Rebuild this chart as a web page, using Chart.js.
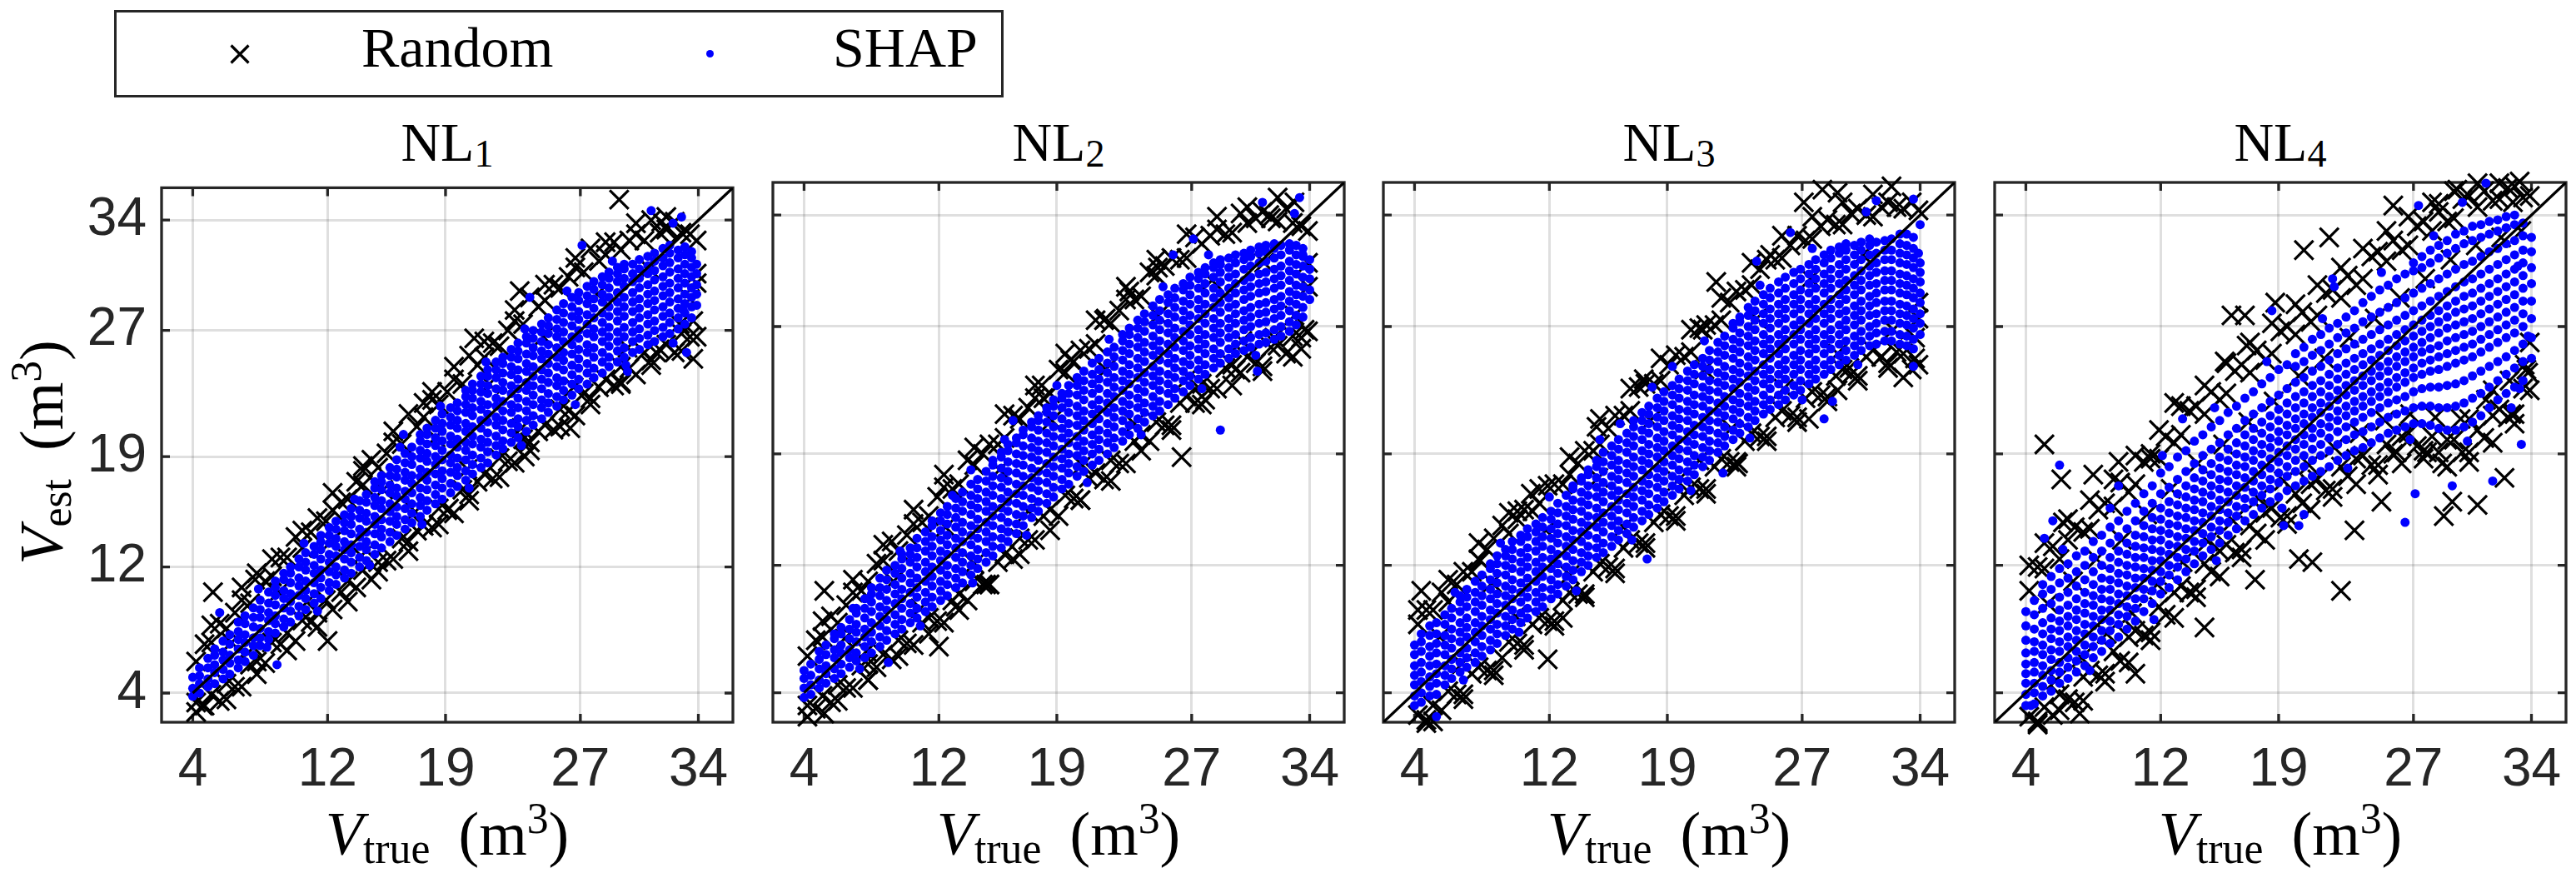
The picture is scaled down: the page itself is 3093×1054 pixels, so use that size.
<!DOCTYPE html>
<html lang="en">
<head>
    <meta charset="UTF-8">
    <title>Random vs SHAP - NL1..NL4</title>
    <style>
        body {
            margin: 0;
            background: #ffffff;
        }

        #fig {
            position: relative;
            width: 3093px;
            height: 1054px;
            overflow: hidden;
            background: #ffffff;
            font-family: "Liberation Serif", "Times New Roman", serif;
            color: #000000;
        }

        canvas {
            position: absolute;
        }

        .txt {
            position: absolute;
            line-height: 1;
            white-space: nowrap;
        }

        .legend {
            position: absolute;
            left: 137px;
            top: 12px;
            width: 1068px;
            height: 105px;
            box-sizing: border-box;
            border: 3px solid #262626;
            background: #ffffff;
        }

        .dot {
            position: absolute;
            width: 9px;
            height: 9px;
            border-radius: 50%;
            background: #0000ff;
        }

        .title {
            font-size: 66px;
            transform: translateX(-50%);
        }

        .title sub {
            font-size: 0.7em;
            vertical-align: -0.15em;
            line-height: 0;
        }

        .axlab {
            font-size: 74px;
        }

        .axlab sub {
            font-size: 0.7em;
            vertical-align: -0.2em;
            line-height: 0;
        }

        .axlab sup {
            font-size: 0.7em;
            vertical-align: 0.5em;
            line-height: 0;
        }

        .axlab .unit {
            margin-left: 34px;
        }
    </style>
    <script src="https://cdn.jsdelivr.net/npm/chart.js"></script>
</head>
<body>
<div id="fig">
    <div class="legend"></div>
    <svg style="position:absolute; left:276px; top:53px;" width="24" height="24">
        <path d="M1.5 1.5 L22.5 22.5 M22.5 1.5 L1.5 22.5" stroke="#000" stroke-width="3.2" fill="none"/>
    </svg>
    <div class="txt" style="left:434px; top:23px; font-size:68px;">Random</div>
    <div class="dot" style="left:848px; top:60px;"></div>
    <div class="txt" style="left:1000px; top:23px; font-size:68px;">SHAP</div>

    <div class="txt title" style="left:537px; top:138px;">NL<sub>1</sub></div>
    <div class="txt title" style="left:1271px; top:138px;">NL<sub>2</sub></div>
    <div class="txt title" style="left:2004px; top:138px;">NL<sub>3</sub></div>
    <div class="txt title" style="left:2738px; top:138px;">NL<sub>4</sub></div>

    <div class="txt axlab" style="left:537px; top:964px; transform:translateX(-50%);"><i>V</i><sub>true</sub><span class="unit">(m<sup>3</sup>)</span></div>
    <div class="txt axlab" style="left:1271px; top:964px; transform:translateX(-50%);"><i>V</i><sub>true</sub><span class="unit">(m<sup>3</sup>)</span></div>
    <div class="txt axlab" style="left:2004px; top:964px; transform:translateX(-50%);"><i>V</i><sub>true</sub><span class="unit">(m<sup>3</sup>)</span></div>
    <div class="txt axlab" style="left:2738px; top:964px; transform:translateX(-50%);"><i>V</i><sub>true</sub><span class="unit">(m<sup>3</sup>)</span></div>

    <div class="txt axlab" style="left:50px; top:543px; transform:translate(-50%,-50%) rotate(-90deg);"><i>V</i><sub>est</sub><span class="unit">(m<sup>3</sup>)</span></div>
</div>

<script>
    // axis ticks and limits (same for every panel)
    const tickValues = [4, 12, 19, 27, 34];
    const axisMin = 2.15;
    const axisMax = 36.05;

    // where the y = x reference line starts in each panel
    const diagonalStart = [4, 4, 2.15, 2.15];

    // The clouds:
    // each row is [V_true, V_est, V_est, ...] for the points stacked at that V_true.
    // Isolated points are kept as [V_true, V_est] pairs.

    // ---------- NL1 ----------
    const nl1ShapCols = [
        [4.0, 3.8,4.3,5.0],
        [4.4, 4.0,4.6,5.1,5.6],
        [4.9, 4.4,4.9,5.6,6.2],
        [5.3, 4.6,5.3,5.8,6.4,6.8],
        [5.8, 4.9,5.5,6.1,6.6,7.3],
        [6.2, 5.2,5.9,6.4,7.1,7.7],
        [6.7, 5.6,6.1,6.8,7.4,7.9,8.5],
        [7.1, 6.0,6.6,7.2,7.7,8.4,8.9],
        [7.6, 6.4,7.0,7.5,8.2,8.8,9.4],
        [8.0, 7.0,7.5,8.1,8.8,9.3,9.9],
        [8.5, 7.4,7.9,8.6,9.1,9.7,10.4],
        [8.9, 7.8,8.4,8.9,9.6,10.2,10.7,11.1],
        [9.4, 8.2,8.7,9.4,10.0,10.5,11.2,11.6],
        [9.8, 8.5,9.2,9.8,10.3,11.0,11.6,12.0],
        [10.3, 8.9,9.5,10.2,10.8,11.3,12.0,12.5],
        [10.7, 9.3,10.0,10.5,11.1,11.8,12.3,12.9],
        [11.2, 9.7,10.3,11.0,11.6,12.1,12.8,13.3],
        [11.6, 10.0,10.7,11.3,11.8,12.5,13.1,13.6,14.0],
        [12.1, 10.5,11.0,11.7,12.3,12.8,13.5,14.0,14.5],
        [12.5, 10.9,11.5,12.0,12.7,13.3,13.8,14.4,14.9],
        [13.0, 11.3,11.8,12.5,13.1,13.6,14.3,14.8,15.3],
        [13.4, 11.6,12.3,12.9,13.4,14.1,14.7,15.2,15.7],
        [13.9, 12.0,12.6,13.3,13.9,14.4,15.1,15.6,16.2],
        [14.3, 12.4,13.1,13.6,14.2,14.9,15.4,16.1,16.6],
        [14.8, 12.8,13.4,14.1,14.7,15.2,15.9,16.4,17.0,17.4],
        [15.2, 13.2,13.9,14.4,15.0,15.7,16.2,16.9,17.4,17.8],
        [15.7, 13.6,14.2,14.9,15.5,16.0,16.7,17.2,17.8,18.3],
        [16.1, 14.0,14.7,15.2,15.8,16.5,17.0,17.7,18.2,18.8],
        [16.6, 14.4,15.0,15.7,16.3,16.8,17.5,18.0,18.6,19.2],
        [17.0, 14.8,15.4,16.0,16.7,17.3,17.8,18.5,19.0,19.6],
        [17.5, 15.2,15.9,16.4,17.0,17.7,18.2,18.9,19.4,20.0,20.4],
        [17.9, 15.6,16.2,16.9,17.5,18.0,18.7,19.2,19.8,20.4,20.8],
        [18.4, 16.0,16.6,17.2,17.9,18.5,19.0,19.7,20.2,20.8,21.3],
        [18.8, 16.3,17.0,17.6,18.1,18.8,19.4,20.0,20.6,21.1,21.7],
        [19.3, 16.7,17.3,18.0,18.6,19.1,19.8,20.3,21.0,21.5,22.1],
        [19.7, 17.1,17.8,18.3,18.9,19.6,20.1,20.8,21.3,21.9,22.4],
        [20.2, 17.5,18.1,18.8,19.4,19.9,20.6,21.1,21.8,22.3,22.8,23.2],
        [20.6, 17.9,18.5,19.1,19.8,20.3,20.9,21.6,22.1,22.7,23.2,23.6],
        [21.1, 18.3,18.9,19.6,20.1,20.8,21.3,22.0,22.5,23.1,23.6,24.1],
        [21.5, 18.6,19.3,19.9,20.5,21.2,21.7,22.3,23.0,23.5,24.1,24.5],
        [22.0, 19.1,19.7,20.3,21.0,21.5,22.2,22.7,23.3,24.0,24.5,25.0],
        [22.4, 19.5,20.0,20.7,21.3,21.9,22.5,23.2,23.7,24.3,24.9,25.3],
        [22.9, 19.9,20.5,21.1,21.8,22.3,23.0,23.5,24.2,24.7,25.3,25.8],
        [23.3, 20.2,20.9,21.4,22.1,22.7,23.3,23.9,24.5,25.2,25.7,26.2],
        [23.8, 20.6,21.3,21.9,22.5,23.2,23.7,24.4,24.9,25.5,26.2,26.6],
        [24.2, 21.0,21.6,22.3,22.9,23.5,24.1,24.7,25.4,25.9,26.5,27.0],
        [24.7, 21.4,22.1,22.6,23.3,23.9,24.5,25.2,25.7,26.3,26.9,27.4],
        [25.1, 21.8,22.4,23.0,23.7,24.3,24.9,25.5,26.1,26.8,27.3,27.8],
        [25.6, 22.2,22.8,23.5,24.0,24.7,25.3,25.9,26.6,27.1,27.7,28.3],
        [26.0, 22.6,23.2,23.8,24.5,25.1,25.6,26.3,26.9,27.5,28.1,28.7],
        [26.5, 22.9,23.6,24.2,24.8,25.5,26.1,26.6,27.3,27.9,28.5,29.1],
        [26.9, 23.3,23.9,24.6,25.2,25.8,26.5,27.0,27.7,28.2,28.9,29.4],
        [27.4, 23.6,24.3,24.9,25.6,26.1,26.8,27.4,28.0,28.7,29.2,29.8],
        [27.8, 24.0,24.6,25.3,25.9,26.6,27.1,27.8,28.4,29.0,29.6,30.1],
        [28.3, 24.3,25.0,25.6,26.3,26.9,27.5,28.1,28.8,29.3,29.9,30.4],
        [28.7, 24.7,25.3,26.0,26.6,27.2,27.9,28.5,29.1,29.7,30.3,30.7],
        [29.2, 25.0,25.7,26.3,26.9,27.6,28.2,28.8,29.4,30.1,30.6,31.0],
        [29.6, 25.3,25.9,26.6,27.2,27.9,28.5,29.1,29.8,30.3,30.9,31.2],
        [30.1, 25.6,26.3,26.9,27.5,28.2,28.8,29.4,30.1,30.6,31.2],
        [30.5, 25.8,26.5,27.1,27.8,28.4,29.0,29.7,30.3,30.9,31.5],
        [31.0, 26.1,26.7,27.4,28.0,28.7,29.3,29.9,30.6,31.1,31.7],
        [31.4, 26.3,27.0,27.6,28.3,28.9,29.5,30.2,30.8,31.4,31.9],
        [31.9, 26.6,27.2,27.9,28.5,29.2,29.8,30.4,31.1,31.6,32.2],
        [32.3, 26.8,27.5,28.1,28.8,29.4,30.0,30.7,31.3,31.9,32.4],
        [32.8, 27.1,27.8,28.4,29.0,29.7,30.3,30.9,31.6,32.1],
        [33.2, 27.4,28.1,28.7,29.3,30.0,30.6,31.2,31.8,32.3],
        [33.6, 27.8,28.5,29.1,29.7,30.4,31.0,31.6,32.0],
        [33.9, 28.6,29.3,29.9,30.6,31.2]
    ];
    const nl1ShapOut = [
        [31.2,34.6],[33.0,34.2],[32.5,33.8],[29.8,24.4],[33.3,25.6],[5.6,9.1],
        [9.0,5.8],[16.5,20.4],[24.0,29.1],[27.1,32.4],[33.1,28.3],
        [7.9,10.6],[10.6,13.5],[13.6,16.3],[16.3,19.6],[18.7,22.2],[21.4,25.0],
        [23.7,27.1],[26.2,29.5],[28.9,31.4],[8.4,6.9],[11.4,9.2],[14.5,12.1],
        [17.6,14.7],[20.4,17.0],[23.5,19.7],[26.7,22.3],[29.7,24.8],[32.5,26.2]
    ];
    const nl1RandomCols = [
        [4.2, 3.4,6.0,2.8], [4.7, 3.2,7.1], [5.1, 3.9,7.2,8.3], [5.6, 3.5,8.4],
        [6.0, 4.6,8.1,3.6], [6.5, 4.4,9.1], [6.9, 4.4,9.9,10.7], [7.4, 5.8,9.7],
        [7.8, 6.0,11.6,5.2], [8.3, 5.9,11.1], [8.7, 7.2,11.4,12.5], [9.2, 7.1,12.6],
        [9.6, 7.8,12.6,6.7], [10.1, 7.3,13.9], [10.5, 8.6,13.2,14.3], [11.0, 8.5,14.2],
        [11.4, 9.1,15.1,8.2], [11.9, 9.9,14.9], [12.3, 9.3,16.7,15.6], [12.8, 10.4,16.1],
        [13.2, 11.1,16.3,9.8], [13.7, 10.7,17.4], [14.1, 11.8,17.2,18.4], [14.6, 11.2,18.8],
        [15.0, 12.3,18.3,11.7], [15.5, 12.4,19.2], [15.9, 12.5,19.9,20.6], [16.4, 13.8,19.8],
        [16.8, 13.6,21.7,13.0], [17.3, 14.3,20.9], [17.7, 14.6,21.5,22.4], [18.2, 14.5,22.6],
        [18.6, 15.7,22.3,14.7], [19.1, 15.6,23.1], [19.5, 15.4,23.9,24.7], [20.0, 16.9,23.6],
        [20.4, 16.6,25.4,16.2], [20.9, 17.4,24.8], [21.3, 17.9,25.3,26.3], [21.8, 17.6,26.2],
        [22.2, 18.9,26.0,17.7], [22.7, 18.7,27.0], [23.1, 18.6,27.6,28.3], [23.6, 20.1,27.4],
        [24.0, 19.9,29.1,19.4], [24.5, 20.6,28.5], [24.9, 21.0,28.9,29.9], [25.4, 20.7,29.9],
        [25.8, 22.0,29.7,20.9], [26.3, 21.9,30.4], [26.7, 21.6,31.0,31.6], [27.2, 23.0,30.7],
        [27.6, 22.7,32.2,22.3], [28.1, 23.4,31.4], [28.5, 23.9,31.8,32.6], [29.0, 23.5,32.6],
        [29.4, 24.7,32.1,23.6], [29.9, 24.6,32.7], [30.3, 24.2,33.1,33.8], [30.8, 25.6,32.7],
        [31.2, 25.1,34.0,24.8], [31.7, 25.8,33.2], [32.1, 26.1,33.4,34.2], [32.6, 25.6,33.9],
        [33.0, 26.8,33.2,25.7], [33.5, 26.6,33.1], [33.9, 26.6,32.7,30.0]
    ];
    const nl1RandomOut = [
        [5.2,10.4],[12.0,7.3],[29.3,35.3],[33.7,25.2],[33.7,27.6],[31.5,25.6],[29.4,23.7],
        [26.4,20.8],[23.7,19.0],[19.2,15.7],[18.2,23.1],[20.7,26.5],[23.4,29.5],[14.1,18.1],
        [7.7,11.2],[4.6,3.2],[33.9,30.6],[33.5,29.0],[32.2,33.5],[31.8,33.9],
        [6.3,7.2],[9.1,10.4],[12.2,13.6],[15.3,16.9],[18.4,20.2],[21.6,23.6],[24.8,26.6],
        [28.0,29.3],[31.1,30.9],[7.6,6.9],[10.8,9.8],[14.0,12.7],[17.2,15.5],[20.3,18.2],
        [23.5,20.8],[26.6,23.4],[29.8,25.9],[32.9,27.4]
    ];

    // ---------- NL2 ----------
    const nl2ShapCols = [
        [4.0, 3.7,4.3,4.9,5.4],
        [4.4, 3.9,4.5,5.1,5.8],
        [4.9, 4.3,4.8,5.5,6.1,6.6],
        [5.3, 4.6,5.2,5.7,6.4,7.0],
        [5.8, 4.9,5.5,6.2,6.7,7.4,7.7],
        [6.2, 5.2,5.8,6.5,7.0,7.7,8.1],
        [6.7, 5.6,6.2,6.7,7.4,8.0,8.6],
        [7.1, 6.0,6.5,7.2,7.8,8.3,9.0,9.3],
        [7.6, 6.2,6.9,7.5,8.0,8.7,9.3,9.9],
        [8.0, 6.5,7.2,7.8,8.4,9.1,9.7,10.2,10.6],
        [8.5, 6.9,7.5,8.2,8.8,9.4,10.1,10.6,11.2],
        [8.9, 7.3,7.9,8.6,9.2,9.8,10.5,11.1,11.7],
        [9.4, 7.7,8.3,8.9,9.6,10.2,10.8,11.5,12.0],
        [9.8, 8.0,8.6,9.3,9.9,10.5,11.2,11.8,12.4,12.7],
        [10.3, 8.4,9.0,9.6,10.3,10.9,11.5,12.2,12.7,13.1],
        [10.7, 8.7,9.3,10.0,10.6,11.2,11.9,12.5,13.1,13.7],
        [11.2, 9.1,9.7,10.3,11.0,11.6,12.2,12.9,13.5,14.1],
        [11.6, 9.4,10.0,10.7,11.3,11.9,12.6,13.2,13.8,14.5,14.8],
        [12.1, 9.8,10.4,11.0,11.7,12.3,12.9,13.6,14.2,14.8,15.3],
        [12.5, 10.1,10.8,11.4,12.0,12.7,13.3,13.9,14.6,15.2,15.7],
        [13.0, 10.6,11.2,11.8,12.5,13.1,13.7,14.4,15.0,15.6,16.2],
        [13.4, 10.9,11.6,12.2,12.8,13.5,14.1,14.7,15.4,16.0,16.6],
        [13.9, 11.4,12.0,12.6,13.3,13.9,14.5,15.2,15.8,16.4,17.1],
        [14.3, 11.8,12.4,13.0,13.7,14.3,14.9,15.6,16.2,16.8,17.4],
        [14.8, 12.2,12.8,13.5,14.1,14.7,15.4,16.0,16.6,17.3,17.9],
        [15.2, 12.6,13.2,13.8,14.5,15.1,15.7,16.4,17.0,17.6,18.3,18.6],
        [15.7, 13.1,13.7,14.3,15.0,15.6,16.2,16.9,17.5,18.1,18.8,19.1],
        [16.1, 13.5,14.1,14.7,15.4,16.0,16.6,17.3,17.9,18.5,19.2,19.6],
        [16.6, 14.0,14.6,15.2,15.9,16.5,17.1,17.8,18.4,19.0,19.7,20.0],
        [17.0, 14.5,15.1,15.7,16.4,17.0,17.6,18.3,18.9,19.5,20.2,20.5],
        [17.5, 15.0,15.6,16.2,16.9,17.5,18.1,18.8,19.4,20.0,20.7,21.0],
        [17.9, 15.4,16.0,16.7,17.3,17.9,18.6,19.2,19.8,20.5,21.1,21.4],
        [18.4, 15.9,16.5,17.2,17.8,18.4,19.1,19.7,20.3,21.0,21.6,21.9],
        [18.8, 16.3,16.9,17.6,18.2,18.8,19.5,20.1,20.7,21.4,22.0,22.4],
        [19.3, 16.8,17.4,18.1,18.7,19.3,20.0,20.6,21.2,21.9,22.5,22.8],
        [19.7, 17.1,17.8,18.4,19.0,19.7,20.3,20.9,21.6,22.2,22.8,23.3],
        [20.2, 17.6,18.2,18.9,19.5,20.1,20.8,21.4,22.0,22.7,23.3,23.8],
        [20.6, 17.9,18.6,19.2,19.8,20.5,21.1,21.7,22.4,23.0,23.6,24.2],
        [21.1, 18.3,19.0,19.6,20.2,20.9,21.5,22.1,22.8,23.4,24.0,24.7],
        [21.5, 18.6,19.3,19.9,20.5,21.2,21.8,22.4,23.1,23.7,24.3,25.0],
        [22.0, 19.0,19.7,20.3,20.9,21.6,22.2,22.8,23.5,24.1,24.7,25.4],
        [22.4, 19.4,20.0,20.7,21.3,21.9,22.6,23.2,23.8,24.5,25.1,25.7],
        [22.9, 19.8,20.4,21.1,21.7,22.3,23.0,23.6,24.2,24.9,25.5,26.1,26.5],
        [23.3, 20.2,20.8,21.5,22.1,22.7,23.4,24.0,24.6,25.3,25.9,26.5,26.9],
        [23.8, 20.6,21.2,21.9,22.5,23.1,23.8,24.4,25.0,25.7,26.3,26.9,27.4],
        [24.2, 21.0,21.6,22.2,22.9,23.5,24.1,24.8,25.4,26.0,26.7,27.3,27.8],
        [24.7, 21.4,22.0,22.6,23.3,23.9,24.5,25.2,25.8,26.4,27.1,27.7,28.3],
        [25.1, 21.7,22.3,23.0,23.6,24.2,24.9,25.5,26.1,26.8,27.4,28.0,28.7],
        [25.6, 22.1,22.8,23.4,24.0,24.7,25.3,25.9,26.6,27.2,27.8,28.5,29.0],
        [26.0, 22.5,23.1,23.8,24.4,25.0,25.7,26.3,26.9,27.6,28.2,28.8,29.4],
        [26.5, 22.9,23.6,24.2,24.8,25.5,26.1,26.7,27.4,28.0,28.6,29.3,29.7],
        [26.9, 23.3,23.9,24.6,25.2,25.8,26.5,27.1,27.7,28.4,29.0,29.6,30.1],
        [27.4, 23.7,24.3,24.9,25.6,26.2,26.8,27.5,28.1,28.7,29.4,30.0,30.4],
        [27.8, 24.0,24.6,25.3,25.9,26.5,27.2,27.8,28.4,29.1,29.7,30.3,30.7],
        [28.3, 24.4,25.0,25.6,26.3,26.9,27.5,28.2,28.8,29.4,30.1,30.7,31.0],
        [28.7, 24.7,25.3,26.0,26.6,27.2,27.9,28.5,29.1,29.8,30.4,30.9,31.2],
        [29.2, 25.0,25.6,26.3,26.9,27.5,28.2,28.8,29.4,30.1,30.7,31.3],
        [29.6, 25.3,25.9,26.5,27.2,27.8,28.4,29.1,29.7,30.3,31.0,31.5],
        [30.1, 25.5,26.1,26.8,27.4,28.0,28.7,29.3,29.9,30.6,31.2,31.6],
        [30.5, 25.7,26.3,27.0,27.6,28.2,28.9,29.5,30.1,30.8,31.4,31.8],
        [31.0, 25.9,26.5,27.2,27.8,28.4,29.1,29.7,30.3,31.0,31.6,32.0],
        [31.4, 26.0,26.6,27.3,27.9,28.5,29.2,29.8,30.4,31.1,31.7,32.1],
        [31.9, 26.2,26.8,27.5,28.1,28.7,29.4,30.0,30.6,31.3,31.9,32.2],
        [32.3, 26.4,27.0,27.7,28.3,28.9,29.6,30.2,30.8,31.5,32.1],
        [32.8, 26.7,27.3,28.0,28.6,29.2,29.9,30.5,31.1,31.8,32.2],
        [33.2, 27.1,27.7,28.4,29.0,29.6,30.3,30.9,31.5,32.1],
        [33.6, 27.6,28.2,28.9,29.5,30.1,30.8,31.4,31.9],
        [34.0, 28.7,29.3,30.0,30.6,31.2]
    ];
    const nl2ShapOut = [
        [28.7,20.5],[30.9,24.2],[31.2,34.8],[33.4,35.1],[33.1,34.1],[16.4,21.1],
        [13.9,18.0],[9.0,5.9],[25.9,31.5],[27.1,32.5],[33.6,31.5],[34.0,30.6],
        [6.9,9.3],[9.7,12.9],[12.8,16.4],[15.9,19.9],[19.0,23.3],[22.1,26.2],
        [25.3,29.5],[28.0,31.5],[7.3,5.5],[10.9,8.2],[14.0,10.9],[17.2,13.9],
        [20.8,17.2],[24.0,20.2],[27.6,23.1],[30.8,25.2]
    ];
    const nl2RandomCols = [
        [4.2, 3.2,6.3,2.5], [4.7, 3.0,7.3], [5.1, 3.8,7.5,8.5], [5.6, 3.4,8.8],
        [6.0, 4.5,8.4,3.5], [6.5, 4.3,9.5], [6.9, 4.3,10.3,11.1], [7.4, 5.7,10.4],
        [7.8, 5.8,11.0,4.8], [8.3, 5.6,12.1], [8.7, 6.4,12.3,13.3], [9.2, 6.1,13.5],
        [9.6, 7.3,12.9,6.3], [10.1, 7.1,13.9], [10.5, 7.0,14.6,15.5], [11.0, 8.4,14.7],
        [11.4, 8.7,15.1,7.7], [11.9, 8.5,16.3], [12.3, 8.4,16.9,17.7], [12.8, 9.8,16.8],
        [13.2, 10.2,17.1,9.2], [13.7, 9.8,18.6], [14.1, 11.0,18.3,19.4], [14.6, 10.8,19.0],
        [15.0, 10.8,19.6,10.8], [15.5, 12.2,19.6], [15.9, 12.7,20.0,21.5], [16.4, 12.4,21.4],
        [16.8, 13.7,21.2,12.7], [17.3, 13.6,21.9], [17.7, 13.6,22.5,23.3], [18.2, 15.1,22.5],
        [18.6, 15.5,22.8,14.2], [19.1, 15.1,24.3], [19.5, 16.4,24.1,25.3], [20.0, 16.2,24.8],
        [20.4, 16.1,25.5,16.1], [20.9, 17.5,25.6], [21.3, 17.8,25.9,27.4], [21.8, 17.4,27.4],
        [22.2, 18.6,27.2,17.3], [22.7, 18.4,28.0], [23.1, 18.4,28.7,29.5], [23.6, 19.8,28.7],
        [24.0, 20.2,28.9,19.2], [24.5, 19.8,30.4], [24.9, 21.0,30.2,31.2], [25.4, 20.8,30.8],
        [25.8, 20.8,31.3,20.5], [26.3, 22.2,31.2], [26.7, 22.6,31.3,32.8], [27.2, 22.2,32.6],
        [27.6, 23.4,32.2,22.1], [28.1, 23.1,32.7], [28.5, 23.1,33.1,33.9], [29.0, 24.4,32.8],
        [29.4, 24.6,32.9,23.3], [29.9, 24.1,34.1], [30.3, 25.1,33.5,34.5], [30.8, 24.7,33.8],
        [31.2, 24.5,34.2,24.2], [31.7, 25.7,33.8], [32.1, 25.8,33.6,35.1], [32.6, 25.3,34.4],
        [33.0, 26.4,33.5,25.1], [33.5, 26.3,33.3], [33.9, 26.7,33.0,29.5]
    ];
    const nl2RandomOut = [
        [5.2,10.4],[12.0,6.9],[26.4,18.8],[33.5,25.6],[33.7,26.8],[33.1,34.8],[31.6,34.0],
        [27.8,22.4],[18.1,23.3],[19.8,24.9],[21.9,27.5],[23.3,29.2],[25.0,30.7],[14.8,10.8],
        [13.0,9.4],[7.8,4.8],[5.2,2.7],[29.6,24.3],[31.9,26.3],[33.9,31.0],
        [6.4,7.4],[9.3,11.0],[12.4,14.4],[15.6,18.0],[18.7,21.1],[21.9,24.3],[25.0,27.7],
        [28.2,29.9],[31.3,31.0],[7.7,6.6],[10.9,9.3],[14.1,12.1],[17.3,15.4],[20.5,18.3],
        [23.6,20.9],[26.8,23.8],[30.0,26.1],[33.1,27.7]
    ];

    // ---------- NL3 ----------
    const nl3ShapCols = [
        [4.0, 3.2,3.8,4.5,5.1,5.7,6.4,7.0],
        [4.4, 3.4,4.0,4.7,5.3,5.9,6.6,7.2,7.7],
        [4.9, 3.8,4.4,5.0,5.7,6.3,6.9,7.6,8.2],
        [5.3, 3.9,4.6,5.2,5.8,6.5,7.1,7.7,8.4],
        [5.8, 4.5,5.1,5.7,6.4,7.0,7.6,8.3,8.9],
        [6.2, 4.9,5.5,6.1,6.8,7.4,8.0,8.7,9.3],
        [6.7, 5.3,5.9,6.5,7.2,7.8,8.4,9.1,9.7,10.1],
        [7.1, 5.6,6.2,6.8,7.5,8.1,8.7,9.4,10.0,10.5],
        [7.6, 5.9,6.5,7.2,7.8,8.4,9.1,9.7,10.3,11.0],
        [8.0, 6.3,6.9,7.6,8.2,8.8,9.5,10.1,10.7,11.4],
        [8.5, 6.7,7.3,8.0,8.6,9.2,9.9,10.5,11.1,11.8,12.1],
        [8.9, 7.1,7.7,8.3,9.0,9.6,10.2,10.9,11.5,12.1,12.6],
        [9.4, 7.6,8.2,8.8,9.5,10.1,10.7,11.4,12.0,12.6,13.0],
        [9.8, 8.0,8.6,9.2,9.9,10.5,11.1,11.8,12.4,13.0,13.5],
        [10.3, 8.4,9.0,9.7,10.3,10.9,11.6,12.2,12.8,13.5,13.9],
        [10.7, 8.7,9.3,10.0,10.6,11.2,11.9,12.5,13.1,13.8,14.3],
        [11.2, 9.1,9.7,10.3,11.0,11.6,12.2,12.9,13.5,14.1,14.6],
        [11.6, 9.4,10.0,10.6,11.3,11.9,12.5,13.2,13.8,14.4,15.0],
        [12.1, 9.9,10.5,11.1,11.8,12.4,13.0,13.7,14.3,14.9,15.4],
        [12.5, 10.2,10.8,11.5,12.1,12.7,13.4,14.0,14.6,15.3,15.9],
        [13.0, 10.7,11.3,11.9,12.6,13.2,13.8,14.5,15.1,15.7,16.4],
        [13.4, 11.1,11.7,12.3,13.0,13.6,14.2,14.9,15.5,16.1,16.8,17.0],
        [13.9, 11.6,12.2,12.8,13.5,14.1,14.7,15.4,16.0,16.6,17.3,17.5],
        [14.3, 12.0,12.6,13.2,13.9,14.5,15.1,15.8,16.4,17.0,17.7,18.0],
        [14.8, 12.5,13.1,13.7,14.4,15.0,15.6,16.3,16.9,17.5,18.2,18.6],
        [15.2, 12.8,13.4,14.1,14.7,15.3,16.0,16.6,17.2,17.9,18.5,19.1],
        [15.7, 13.2,13.8,14.5,15.1,15.7,16.4,17.0,17.6,18.3,18.9,19.5],
        [16.1, 13.6,14.2,14.8,15.5,16.1,16.7,17.4,18.0,18.6,19.3,19.9],
        [16.6, 14.0,14.6,15.3,15.9,16.5,17.2,17.8,18.4,19.1,19.7,20.3],
        [17.0, 14.4,15.0,15.7,16.3,16.9,17.6,18.2,18.8,19.5,20.1,20.7,21.1],
        [17.5, 14.8,15.4,16.1,16.7,17.3,18.0,18.6,19.2,19.9,20.5,21.1,21.6],
        [17.9, 15.2,15.8,16.5,17.1,17.7,18.4,19.0,19.6,20.3,20.9,21.5,22.0],
        [18.4, 15.6,16.2,16.9,17.5,18.1,18.8,19.4,20.0,20.7,21.3,21.9,22.5],
        [18.8, 16.0,16.6,17.3,17.9,18.5,19.2,19.8,20.4,21.1,21.7,22.3,22.9],
        [19.3, 16.4,17.0,17.6,18.3,18.9,19.5,20.2,20.8,21.4,22.1,22.7,23.3],
        [19.7, 16.8,17.4,18.0,18.7,19.3,19.9,20.6,21.2,21.8,22.5,23.1,23.7],
        [20.2, 17.3,17.9,18.5,19.2,19.8,20.4,21.1,21.7,22.3,23.0,23.6,24.2],
        [20.6, 17.7,18.3,18.9,19.6,20.2,20.8,21.5,22.1,22.7,23.4,24.0,24.6],
        [21.1, 18.2,18.8,19.4,20.1,20.7,21.3,22.0,22.6,23.2,23.9,24.5,25.0],
        [21.5, 18.6,19.2,19.8,20.5,21.1,21.7,22.4,23.0,23.6,24.3,24.9,25.5],
        [22.0, 19.1,19.7,20.3,21.0,21.6,22.2,22.9,23.5,24.1,24.8,25.4,26.0],
        [22.4, 19.5,20.1,20.7,21.4,22.0,22.6,23.3,23.9,24.5,25.2,25.8,26.4],
        [22.9, 19.9,20.5,21.2,21.8,22.4,23.1,23.7,24.3,25.0,25.6,26.2,26.9,27.2],
        [23.3, 20.3,20.9,21.6,22.2,22.8,23.5,24.1,24.7,25.4,26.0,26.6,27.3,27.6],
        [23.8, 20.7,21.3,22.0,22.6,23.2,23.9,24.5,25.1,25.8,26.4,27.0,27.7,28.2],
        [24.2, 21.1,21.7,22.3,23.0,23.6,24.2,24.9,25.5,26.1,26.8,27.4,28.0,28.6],
        [24.7, 21.5,22.1,22.7,23.4,24.0,24.6,25.3,25.9,26.5,27.2,27.8,28.4,29.0],
        [25.1, 21.8,22.4,23.1,23.7,24.3,25.0,25.6,26.2,26.9,27.5,28.1,28.8,29.4],
        [25.6, 22.1,22.7,23.4,24.0,24.6,25.3,25.9,26.5,27.2,27.8,28.4,29.1,29.8],
        [26.0, 22.4,23.0,23.7,24.3,24.9,25.6,26.2,26.8,27.5,28.1,28.7,29.4,30.1],
        [26.5, 22.7,23.3,24.0,24.6,25.2,25.9,26.5,27.1,27.8,28.4,29.0,29.7,30.4],
        [26.9, 23.0,23.6,24.3,24.9,25.5,26.2,26.8,27.4,28.1,28.7,29.3,30.0,30.6],
        [27.4, 23.4,24.0,24.6,25.3,25.9,26.5,27.2,27.8,28.4,29.1,29.7,30.3,30.9],
        [27.8, 23.7,24.3,24.9,25.6,26.2,26.8,27.5,28.1,28.7,29.4,30.0,30.6,31.2],
        [28.3, 24.0,24.6,25.3,25.9,26.5,27.2,27.8,28.4,29.1,29.7,30.3,31.0,31.5],
        [28.7, 24.3,24.9,25.6,26.2,26.8,27.5,28.1,28.7,29.4,30.0,30.6,31.3,31.8],
        [29.2, 24.6,25.2,25.9,26.5,27.1,27.8,28.4,29.0,29.7,30.3,30.9,31.6,32.0],
        [29.6, 24.9,25.5,26.1,26.8,27.4,28.0,28.7,29.3,29.9,30.6,31.2,31.8,32.2],
        [30.1, 25.2,25.8,26.4,27.1,27.7,28.3,29.0,29.6,30.2,30.9,31.5,32.1],
        [30.5, 25.5,26.1,26.7,27.4,28.0,28.6,29.3,29.9,30.5,31.2,31.8,32.3],
        [31.0, 25.8,26.4,27.0,27.7,28.3,28.9,29.6,30.2,30.8,31.5,32.1,32.5],
        [31.4, 25.9,26.6,27.2,27.8,28.5,29.1,29.7,30.4,31.0,31.6,32.3],
        [31.9, 26.1,26.7,27.4,28.0,28.6,29.3,29.9,30.5,31.2,31.8,32.4],
        [32.3, 26.1,26.7,27.4,28.0,28.6,29.3,29.9,30.5,31.2,31.8,32.5],
        [32.8, 25.9,26.5,27.2,27.8,28.4,29.1,29.7,30.3,31.0,31.6,32.2,32.8],
        [33.2, 25.8,26.4,27.1,27.7,28.3,29.0,29.6,30.2,30.9,31.5,32.1,32.8],
        [33.6, 25.6,26.2,26.9,27.5,28.1,28.8,29.4,30.0,30.7,31.3,31.9,32.6],
        [34.0, 26.5,27.2,27.8,28.5,29.1,29.8,30.4,31.0]
    ];
    const nl3ShapOut = [
        [33.6,35.0],[31.4,34.9],[30.8,34.2],[24.3,31.1],[33.6,24.5],[17.8,12.4],
        [28.8,22.3],[28.3,21.2],[5.3,2.5],[22.3,17.8],[26.3,32.9],[16.2,20.9],
        [19.3,24.5],[34.0,33.4],[33.9,31.6],
        [6.4,10.3],[9.1,13.4],[12.0,16.3],[15.0,19.9],[18.1,23.2],[21.2,26.1],
        [24.5,29.6],[27.6,31.9],[6.9,4.8],[10.2,7.8],[13.6,10.4],[16.9,13.6],
        [20.4,16.7],[23.9,20.0],[27.0,22.4],[30.3,24.6]
    ];
    const nl3RandomCols = [
        [4.2, 2.6,8.3,9.2], [4.7, 2.3,9.2], [5.1, 3.2,9.2,2.2], [5.6, 2.9,10.3],
        [6.0, 4.1,9.7,11.1], [6.5, 3.9,10.8], [6.9, 3.9,11.6,3.6], [7.4, 5.2,11.6],
        [7.8, 5.6,12.4,13.4], [8.3, 5.4,13.0], [8.7, 5.4,13.7,5.1], [9.2, 6.2,14.5],
        [9.6, 7.2,14.0,15.3], [10.1, 7.1,14.9], [10.5, 7.0,15.5,6.7], [11.0, 8.3,15.4],
        [11.4, 8.7,15.9,16.8], [11.9, 8.5,17.0], [12.3, 8.5,17.1,8.2], [12.8, 9.8,17.1],
        [13.2, 10.3,17.7,18.8], [13.7, 10.2,18.4], [14.1, 10.2,19.2,10.0], [14.6, 11.6,19.2],
        [15.0, 12.1,19.6,21.2], [15.5, 11.9,20.6], [15.9, 11.8,21.4,11.5], [16.4, 13.1,21.4],
        [16.8, 13.6,21.7,23.1], [17.3, 13.4,23.2], [17.7, 13.4,23.4,13.1], [18.2, 14.7,23.4],
        [18.6, 15.2,23.6,25.0], [19.1, 15.1,24.6], [19.5, 15.1,25.2,14.8], [20.0, 16.4,25.1],
        [20.4, 16.9,25.4,26.8], [20.9, 16.8,26.9], [21.3, 16.8,27.1,16.5], [21.8, 18.2,27.1],
        [22.2, 18.7,27.4,28.8], [22.7, 18.5,28.5], [23.1, 18.5,29.2,18.2], [23.6, 19.8,29.3],
        [24.0, 20.3,29.6,31.0], [24.5, 20.1,30.6], [24.9, 20.1,31.2,19.8], [25.4, 21.3,31.2],
        [25.8, 21.7,31.3,32.7], [26.3, 21.4,32.1], [26.7, 21.3,32.7,21.0], [27.2, 22.5,32.4],
        [27.6, 22.9,32.5,33.9], [28.1, 22.7,33.3], [28.5, 22.6,33.7,22.3], [29.0, 23.9,33.4],
        [29.4, 24.3,33.4,34.8], [29.9, 24.0,34.1], [30.3, 23.9,34.4,23.6], [30.8, 25.1,34.0],
        [31.2, 25.5,33.9,35.3], [31.7, 25.1,34.5], [32.1, 24.7,34.8,24.4], [32.6, 25.4,34.5],
        [33.0, 25.3,34.4,23.8], [33.5, 24.3,34.8], [33.9, 24.6,34.3,27.5]
    ];
    const nl3RandomOut = [
        [11.9,6.1],[10.1,15.4],[10.9,16.5],[32.3,35.8],[29.1,35.4],[28.2,35.6],[27.1,34.8],
        [33.7,25.0],[33.9,28.5],[33.7,26.3],[27.4,21.2],[29.1,23.0],[21.9,29.8],[25.1,31.5],
        [21.1,26.8],[17.6,23.7],[14.8,20.7],[4.7,2.1],[12.8,8.7],[4.4,10.4],[7.9,12.3],
        [20.9,18.6],[23.2,18.4],[31.7,25.1],[29.8,24.4],
        [5.5,7.5],[8.6,10.9],[11.8,14.2],[14.9,17.5],[18.0,21.1],[21.2,24.3],[24.3,27.5],
        [27.5,30.0],[30.6,31.5],[6.8,5.8],[10.0,8.8],[13.2,11.4],[16.4,14.4],[19.6,17.3],
        [22.8,20.6],[25.9,23.1],[29.1,25.3],[32.4,26.8]
    ];

    // ---------- NL4 ----------
    const nl4ShapCols = [
        [4.0, 3.2,3.9,4.6,5.2,5.8,6.5,7.3,8.2,9.1],
        [4.5, 3.3,4.0,4.6,5.3,5.9,6.6,7.2,8.0,8.9,9.8],
        [5.0, 3.8,4.4,5.1,5.7,6.4,7.0,7.7,8.4,9.3,10.2,10.8],
        [5.5, 4.1,4.8,5.4,6.1,6.7,7.4,8.0,8.7,9.6,10.5,11.3],
        [6.0, 4.6,5.3,5.9,6.6,7.2,7.9,8.5,9.2,10.0,10.9,11.8],
        [6.5, 4.9,5.6,6.2,6.9,7.5,8.2,8.8,9.5,10.3,11.2,12.1],
        [7.0, 5.3,6.0,6.6,7.3,7.9,8.6,9.2,9.9,10.7,11.6,12.6],
        [7.5, 5.7,6.4,7.0,7.7,8.3,9.0,9.6,10.3,11.1,12.0,12.9],
        [8.0, 6.2,6.9,7.5,8.2,8.8,9.5,10.1,10.8,11.6,12.5,13.5],
        [8.5, 6.6,7.3,7.9,8.6,9.2,9.9,10.5,11.2,12.0,12.9,13.9],
        [9.0, 7.1,7.9,8.5,9.2,9.8,10.5,11.1,11.8,12.5,13.4,14.4],
        [9.5, 7.5,8.3,8.9,9.6,10.2,10.9,11.5,12.2,12.9,13.8,14.8],
        [10.0, 8.0,8.8,9.4,10.1,10.7,11.4,12.0,12.7,13.4,14.3,15.4],
        [10.5, 8.5,9.3,9.9,10.6,11.2,11.9,12.5,13.2,13.9,14.8,15.9],
        [11.0, 9.1,9.9,10.5,11.2,11.8,12.5,13.1,13.8,14.5,15.4,16.5],
        [11.5, 9.6,10.4,11.0,11.7,12.3,13.0,13.6,14.3,15.0,15.9,17.0],
        [12.0, 10.2,11.0,11.6,12.3,12.9,13.6,14.2,14.9,15.6,16.5,17.8],
        [12.5, 10.6,11.4,12.0,12.7,13.3,14.0,14.6,15.3,16.0,16.9,18.2],
        [13.0, 11.1,11.9,12.5,13.2,13.8,14.5,15.1,15.8,16.5,17.4,18.8],
        [13.5, 11.6,12.4,13.0,13.7,14.3,15.0,15.6,16.3,17.0,17.9,19.2],
        [14.0, 12.1,12.9,13.5,14.2,14.8,15.5,16.1,16.8,17.5,18.4,19.8],
        [14.5, 12.6,13.4,14.0,14.7,15.3,16.0,16.6,17.3,18.0,18.9,20.2],
        [15.0, 13.0,13.8,14.4,15.1,15.7,16.4,17.0,17.7,18.4,19.3,20.7],
        [15.5, 13.4,14.2,14.8,15.5,16.1,16.8,17.4,18.1,18.8,19.7,21.1],
        [16.0, 13.9,14.7,15.3,16.0,16.6,17.3,17.9,18.6,19.3,20.2,21.6],
        [16.5, 14.3,15.1,15.7,16.4,17.0,17.7,18.3,19.0,19.7,20.6,22.0],
        [17.0, 14.8,15.6,16.2,16.9,17.5,18.2,18.8,19.5,20.2,21.1,22.5],
        [17.5, 15.2,16.0,16.6,17.3,17.9,18.6,19.2,19.9,20.6,21.5,22.9],
        [18.0, 15.6,16.4,17.0,17.7,18.3,19.0,19.6,20.3,21.0,21.9,23.4],
        [18.5, 16.0,16.8,17.4,18.1,18.7,19.4,20.0,20.7,21.4,22.3,23.8],
        [19.0, 16.3,17.2,17.8,18.5,19.1,19.8,20.4,21.1,21.8,22.7,24.3],
        [19.5, 16.7,17.6,18.2,18.9,19.5,20.2,20.8,21.5,22.2,23.1,24.6],
        [20.0, 17.0,17.9,18.6,19.3,19.9,20.6,21.2,21.9,22.6,23.5,24.5,25.3],
        [20.5, 17.3,18.2,18.9,19.6,20.2,20.9,21.5,22.2,22.9,23.8,24.8,25.7],
        [21.0, 17.6,18.6,19.3,20.0,20.6,21.3,21.9,22.6,23.3,24.2,25.2,26.2],
        [21.5, 17.9,18.9,19.6,20.3,20.9,21.6,22.2,22.9,23.6,24.5,25.5,26.5],
        [22.0, 18.2,19.2,20.0,20.7,21.3,22.0,22.6,23.3,24.0,24.9,25.9,26.9],
        [22.5, 18.6,19.6,20.4,21.1,21.7,22.4,23.0,23.7,24.4,25.3,26.3,27.2],
        [23.0, 18.9,19.9,20.7,21.4,22.0,22.7,23.3,24.0,24.7,25.6,26.6,27.6],
        [23.5, 19.2,20.2,21.0,21.7,22.3,23.0,23.6,24.3,25.0,25.9,26.9,28.0],
        [24.0, 19.4,20.4,21.3,22.0,22.6,23.3,23.9,24.6,25.3,26.2,27.3,28.5],
        [24.5, 19.7,20.7,21.6,22.3,22.9,23.6,24.2,24.9,25.6,26.5,27.6,28.9],
        [25.0, 20.0,21.0,21.9,22.6,23.2,23.9,24.5,25.2,25.9,26.8,27.9,29.3],
        [25.5, 20.3,21.3,22.2,22.9,23.5,24.2,24.8,25.5,26.2,27.1,28.2,29.6],
        [26.0, 20.5,21.5,22.4,23.2,23.8,24.5,25.1,25.8,26.5,27.4,28.5,30.0],
        [26.5, 20.7,21.7,22.6,23.5,24.1,24.8,25.4,26.1,26.8,27.7,28.8,30.3],
        [27.0, 20.9,21.9,22.9,23.8,24.4,25.1,25.7,26.4,27.1,28.0,29.1,30.5,31.0],
        [27.5, 20.9,22.0,23.1,24.0,24.7,25.4,26.0,26.7,27.4,28.3,29.4,30.7,31.4],
        [28.0, 20.8,22.0,23.2,24.2,24.9,25.6,26.3,27.0,27.7,28.6,29.7,31.0,31.8],
        [28.5, 20.6,21.9,23.2,24.3,25.1,25.8,26.6,27.3,28.0,28.9,30.0,31.3,32.1],
        [29.0, 20.5,21.9,23.3,24.5,25.3,26.1,26.9,27.6,28.3,29.2,30.3,31.6,32.4],
        [29.5, 20.5,22.0,23.4,24.7,25.5,26.3,27.1,27.9,28.6,29.5,30.6,31.9,32.8],
        [30.0, 20.7,22.2,23.6,24.9,25.7,26.5,27.3,28.1,28.9,29.8,30.9,32.2,33.0],
        [30.5, 21.0,22.5,23.9,25.1,25.9,26.7,27.5,28.3,29.1,30.0,31.1,32.4,33.3],
        [31.0, 21.4,22.8,24.2,25.4,26.2,27.0,27.8,28.6,29.4,30.3,31.4,32.6,33.4],
        [31.5, 21.9,23.2,24.5,25.7,26.5,27.3,28.1,28.9,29.7,30.6,31.7,32.8,33.6],
        [32.0, 22.4,23.6,24.8,26.0,26.8,27.6,28.4,29.2,30.0,30.9,31.9,33.0,33.7],
        [32.5, 22.8,24.0,25.1,26.3,27.1,27.9,28.7,29.5,30.3,31.2,32.2,33.2,33.9],
        [33.0, 23.2,24.4,25.5,26.6,27.4,28.2,29.0,29.8,30.6,31.5,32.4,33.4,34.0],
        [33.5, 23.6,24.8,25.9,27.0,27.8,28.6,29.4,30.2,31.0,31.8,32.7,33.5],
        [34.0, 25.0,26.3,27.5,28.6,29.7,30.7,31.7,32.6]
    ];
    const nl4ShapOut = [
        [31.3,36.0],[27.3,34.6],[29.9,34.8],[33.4,19.6],[31.7,17.3],[29.3,17.0],
        [27.1,16.5],[26.5,14.7],[20.2,14.5],[20.5,15.2],[19.3,14.5],[6.0,18.3],
        [5.6,14.8],[5.1,13.7],[9.5,17.0],[22.3,29.5],[22.2,30.0],[18.6,28.0],
        [13.3,21.2],[33.8,26.4],[33.3,23.1],[33.2,30.8],[4.3,3.2],
        [6.2,13.0],[9.0,15.6],[12.1,18.9],[15.2,21.9],[18.3,24.8],[21.6,27.5],
        [25.1,30.4],[28.2,32.7],[7.8,5.4],[11.6,8.6],[15.3,12.3],[19.2,15.6],
        [23.1,18.1],[26.8,19.9],[30.2,19.8],[32.8,21.9]
    ];
    const nl4RandomCols = [
        [4.2, 2.5,10.4,12.0], [4.7, 2.2,11.9,2.0], [5.1, 3.1,11.8,13.4], [5.6, 2.6,13.2],
        [6.0, 3.9,12.4,2.9], [6.5, 3.6,13.6,14.9], [6.9, 3.4,14.4], [7.4, 5.0,14.1,3.5],
        [7.8, 5.4,14.3,16.1], [8.3, 5.1,15.5], [8.7, 5.2,15.9,4.7], [9.2, 6.6,15.7,17.4],
        [9.6, 6.0,17.2], [10.1, 7.5,16.6,5.9], [10.5, 7.9,17.1,18.9], [11.0, 7.6,18.5],
        [11.4, 7.8,19.0,7.3], [11.9, 9.4,18.7,20.5], [12.3, 8.9,20.1], [12.8, 10.3,19.7,8.7],
        [13.2, 10.7,20.2,22.0], [13.7, 10.3,21.7], [14.1, 10.5,22.0,10.0], [14.6, 12.1,21.5,23.3],
        [15.0, 11.6,22.9], [15.5, 12.9,22.4,11.3], [15.9, 13.3,22.8,24.7], [16.4, 12.8,24.2],
        [16.8, 13.0,24.6,12.5], [17.3, 14.5,24.1,26.0], [17.7, 14.0,25.5], [18.2, 15.3,24.9,13.6],
        [18.6, 15.6,25.3,27.2], [19.1, 15.0,26.7], [19.5, 15.1,27.0,14.6], [20.0, 16.5,26.5,28.4],
        [20.4, 15.9,27.9], [20.9, 17.1,27.3,15.5], [21.3, 17.4,27.7,29.6], [21.8, 16.7,29.1],
        [22.2, 16.8,29.3,16.3], [22.7, 18.2,28.8,30.7], [23.1, 17.6,30.2], [23.6, 18.7,29.6,17.1],
        [24.0, 18.9,30.0,31.9], [24.5, 18.3,31.4], [24.9, 18.3,31.7,17.7], [25.4, 19.6,31.1,33.0],
        [25.8, 19.0,32.4], [26.3, 20.1,31.8,18.4], [26.7, 20.3,32.1,33.9], [27.2, 19.5,33.3],
        [27.6, 19.2,33.6,18.7], [28.1, 20.1,33.0,34.8], [28.5, 19.1,34.2], [29.0, 19.9,33.6,18.2],
        [29.4, 19.9,33.8,35.5], [29.9, 19.1,35.0], [30.3, 19.1,35.2,18.5], [30.8, 20.5,34.5,36.0],
        [31.2, 20.0,35.5], [31.7, 21.4,34.9,19.7], [32.1, 21.8,35.0,36.0], [32.6, 21.3,35.7],
        [33.0, 21.5,35.8,20.9], [33.5, 23.1,35.1], [33.9, 23.0,35.2,26.0]
    ];
    const nl4RandomOut = [
        [5.1,19.6],[6.1,17.4],[6.2,14.7],[8.0,17.7],[9.5,18.5],[11.4,18.7],[12.8,22.2],
        [16.2,27.7],[17.0,27.7],[17.1,25.8],[15.8,24.8],[20.5,31.8],[22.0,32.6],[18.8,28.5],
        [25.8,34.6],[28.5,34.7],[29.6,35.6],[33.3,36.1],[32.9,34.8],[33.7,24.3],[32.8,21.5],
        [32.4,17.5],[30.8,15.8],[28.8,15.1],[29.3,16.0],[25.1,16.0],[23.5,14.2],[22.7,10.4],
        [20.2,12.4],[21.0,12.2],[17.6,11.1],[14.6,8.1],[10.5,5.2],[7.2,2.7],[4.7,2.1],
        [26.0,19.1],[27.8,19.1],[28.7,18.4],[30.3,21.2],[31.7,23.0],[33.8,24.1],
        [5.3,9.6],[6.8,11.0],[8.2,12.4],[9.7,13.6],[11.2,15.2],[12.6,16.8],[14.2,18.4],
        [15.7,19.6],[17.2,21.0],[18.7,22.3],[20.2,23.9],[21.7,25.0],[23.2,26.3],[24.7,27.5],
        [26.2,28.8],[27.7,30.0],[29.2,31.2],[30.7,32.1],[32.2,32.6],[33.4,33.0],
        [5.8,4.8],[7.3,6.2],[8.8,7.7],[10.3,9.0],[11.8,10.8],[13.3,12.2],[14.8,13.5],
        [16.3,14.8],[17.8,16.2],[19.3,17.3],[20.8,18.3],[22.3,19.4],[23.8,20.3],[25.3,21.1],
        [26.8,21.5],[28.3,21.3],[29.8,21.2],[31.3,22.4],[32.7,23.6],[33.6,24.6]
    ];

    const panelShapCols = [nl1ShapCols, nl2ShapCols, nl3ShapCols, nl4ShapCols];
    const panelShapOut = [nl1ShapOut, nl2ShapOut, nl3ShapOut, nl4ShapOut];
    const panelRandomCols = [nl1RandomCols, nl2RandomCols, nl3RandomCols, nl4RandomCols];
    const panelRandomOut = [nl1RandomOut, nl2RandomOut, nl3RandomOut, nl4RandomOut];

    // layout of the four axes boxes on the page
    const plotLeft = [194, 928, 1661, 2395];
    const plotTop = 219;
    const plotWidth = 686;
    const plotHeight = 648;
    const yAxisWidth = 194;
    const padTop = 50;
    const padRight = 40;
    const xAxisHeight = 120;

    const axisColor = '#262626';
    const tickFont = { family: '"Liberation Sans", Arial, sans-serif', size: 64 };

    // box around the axes plus MATLAB-style inward ticks on all four sides
    const framePlugin = {
        id: 'frame',
        beforeDatasetsDraw(chart) {
            const { ctx, chartArea: a, scales } = chart;
            const len = 10;
            ctx.save();
            ctx.strokeStyle = axisColor;
            ctx.lineWidth = 3.3;
            ctx.beginPath();
            scales.x.ticks.forEach(t => {
                const px = scales.x.getPixelForValue(t.value);
                ctx.moveTo(px, a.bottom);
                ctx.lineTo(px, a.bottom - len);
                ctx.moveTo(px, a.top);
                ctx.lineTo(px, a.top + len);
            });
            scales.y.ticks.forEach(t => {
                const py = scales.y.getPixelForValue(t.value);
                ctx.moveTo(a.left, py);
                ctx.lineTo(a.left + len, py);
                ctx.moveTo(a.right, py);
                ctx.lineTo(a.right - len, py);
            });
            ctx.stroke();
            ctx.strokeRect(a.left, a.top, a.right - a.left, a.bottom - a.top);
            ctx.restore();
        }
    };

    const toPoints = arr => arr.map(p => ({ x: p[0], y: p[1] }));
    const fromColumns = cols => cols.flatMap(c => c.slice(1).map(y => ({ x: c[0], y: y })));

    const fig = document.getElementById('fig');

    for (let i = 0; i < 4; i++) {
        const canvas = document.createElement('canvas');
        canvas.width = yAxisWidth + plotWidth + padRight;
        canvas.height = padTop + plotHeight + xAxisHeight;
        canvas.style.left = (plotLeft[i] - yAxisWidth) + 'px';
        canvas.style.top = (plotTop - padTop) + 'px';
        fig.appendChild(canvas);

        const d0 = diagonalStart[i];
        const shapPoints = fromColumns(panelShapCols[i]).concat(toPoints(panelShapOut[i]));
        const randomPoints = fromColumns(panelRandomCols[i]).concat(toPoints(panelRandomOut[i]));

        new Chart(canvas.getContext('2d'), {
            type: 'scatter',
            data: {
                datasets: [
                    {
                        label: 'y = x',
                        data: [{ x: d0, y: d0 }, { x: axisMax, y: axisMax }],
                        showLine: true,
                        borderColor: '#000000',
                        borderWidth: 3.3,
                        pointRadius: 0,
                        order: 0
                    },
                    {
                        label: 'SHAP',
                        data: shapPoints,
                        pointStyle: 'circle',
                        pointRadius: 5.5,
                        pointBackgroundColor: '#0000ff',
                        pointBorderWidth: 0,
                        clip: false,
                        order: 1
                    },
                    {
                        label: 'Random',
                        data: randomPoints,
                        pointStyle: 'crossRot',
                        pointRadius: 16,
                        pointBorderColor: '#000000',
                        pointBorderWidth: 3.2,
                        clip: false,
                        order: 2
                    }
                ]
            },
            options: {
                responsive: false,
                animation: false,
                events: [],
                layout: { padding: { top: padTop, right: padRight, left: 0, bottom: 0 } },
                plugins: {
                    legend: { display: false },
                    tooltip: { enabled: false }
                },
                scales: {
                    x: {
                        type: 'linear',
                        min: axisMin,
                        max: axisMax,
                        afterBuildTicks: s => { s.ticks = tickValues.map(v => ({ value: v })); },
                        afterFit: s => { s.height = xAxisHeight; },
                        border: { display: false },
                        grid: { color: 'rgba(38,38,38,0.15)', lineWidth: 3, drawTicks: false },
                        ticks: {
                            font: tickFont,
                            color: axisColor,
                            padding: 20,
                            maxRotation: 0,
                            autoSkip: false,
                            callback: v => String(v)
                        }
                    },
                    y: {
                        type: 'linear',
                        min: axisMin,
                        max: axisMax,
                        afterBuildTicks: s => { s.ticks = tickValues.map(v => ({ value: v })); },
                        afterFit: s => { s.width = yAxisWidth; },
                        border: { display: false },
                        grid: { color: 'rgba(38,38,38,0.15)', lineWidth: 3, drawTicks: false },
                        ticks: {
                            display: i === 0,
                            font: tickFont,
                            color: axisColor,
                            padding: 18,
                            autoSkip: false,
                            callback: v => String(v)
                        }
                    }
                }
            },
            plugins: [framePlugin]
        });
    }
</script>
</body>
</html>
